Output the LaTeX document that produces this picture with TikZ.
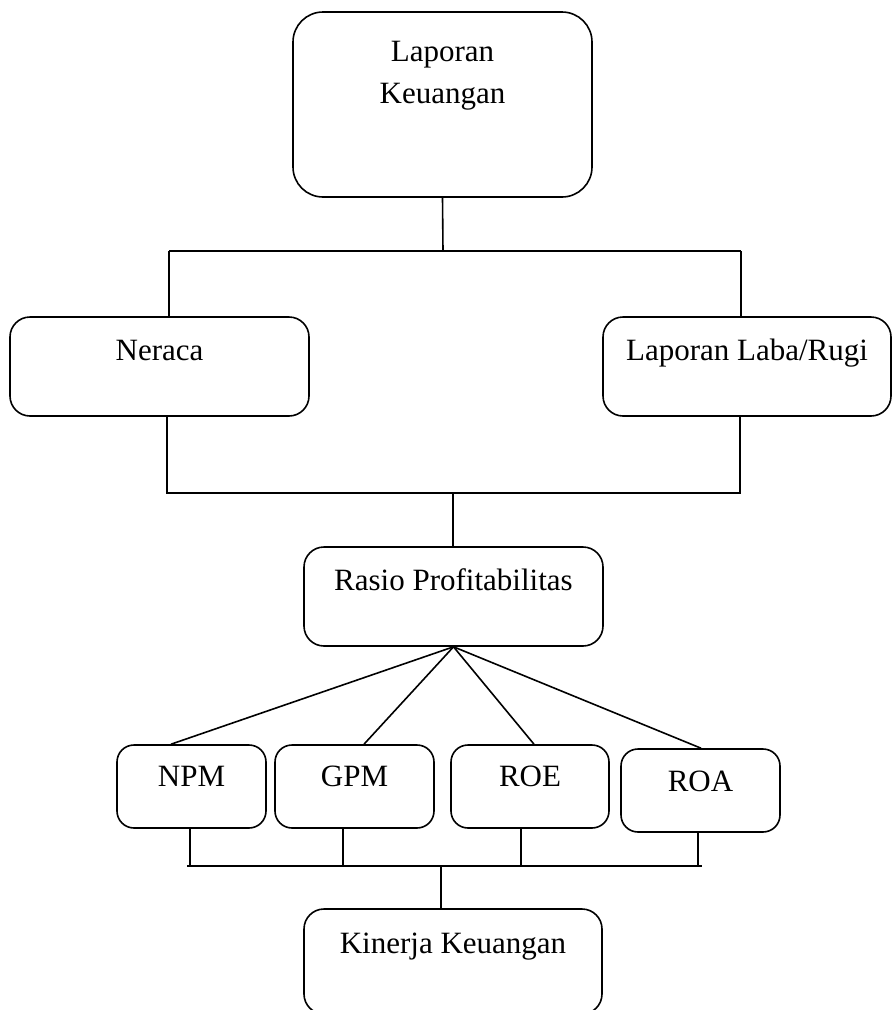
\documentclass[tikz,border=0pt]{standalone}
\usepackage{fontspec}
\setmainfont{Liberation Serif}

\begin{document}
\begin{tikzpicture}[x=1pt, y=-1pt, line width=1.6pt,
    box/.style={draw, rounded corners=20pt, inner sep=0pt, text height=22pt,
        minimum width=299pt, minimum height=99pt, font=\fontsize{31}{42}\selectfont},
    small/.style={box, rounded corners=17pt, minimum height=83pt, text depth=23pt}]
    \useasboundingbox (0,0) rectangle (892,1010);
    \clip (0,0) rectangle (892,1010);
    % boxes
    \node[box, rounded corners=30pt, minimum height=185pt, text width=299pt,
        align=center, text depth=109pt] (lap) at (442.5,104.5) {Laporan\\Keuangan};
    \node[box, text depth=35pt] (ner) at (159.5,366.5) {Neraca};
    \node[box, minimum width=288pt, text depth=35pt] (lab) at (747,366.5) {Laporan Laba/Rugi};
    \node[box, text depth=35pt] (ras) at (453.5,596.5) {Rasio Profitabilitas};
    \node[small, minimum width=149pt] (npm) at (191.5,786.5) {NPM};
    \node[small, minimum width=159pt] (gpm) at (354.5,786.5) {GPM};
    \node[small, minimum width=158pt] (roe) at (530,786.5) {ROE};
    \node[small, minimum width=159pt, text depth=21pt] (roa) at (700.5,790.5) {ROA};
    \node[box, minimum width=298pt, minimum height=105pt, text depth=39pt] (kin) at (453,961.5) {Kinerja Keuangan};
    % bus points
    \coordinate (b1) at (443,251);
    \coordinate (b1l) at (169,251);
    \coordinate (b1r) at (741,251);
    \coordinate (b2) at (453,493);
    \coordinate (b2l) at (167,493);
    \coordinate (b2r) at (740,493);
    \coordinate (b3) at (441,866);
    \coordinate (b3l) at (187,866);
    \coordinate (b3r) at (702,866);
    % connectors
    \draw (lap.south) -- (b1);
    \draw (b1l) -- (b1r);
    \draw (b1l) -- (b1l |- ner.north);
    \draw (b1r) -- (b1r |- lab.north);
    \draw (b2l |- ner.south) -- (b2l) -- (b2r) -- (b2r |- lab.south);
    \draw (b2) -- (ras.north -| b2);
    \foreach \n/\x in {npm/171, gpm/364, roe/534, roa/701}
        \draw (ras.south) -- (\n.north -| \x,0);
    \draw (b3l) -- (b3r);
    \foreach \n/\x in {npm/190, gpm/343, roe/521, roa/698}
        \draw (\n.south -| \x,0) -- (\x,866);
    \draw (b3) -- (kin.north -| b3);
\end{tikzpicture}
\end{document}
